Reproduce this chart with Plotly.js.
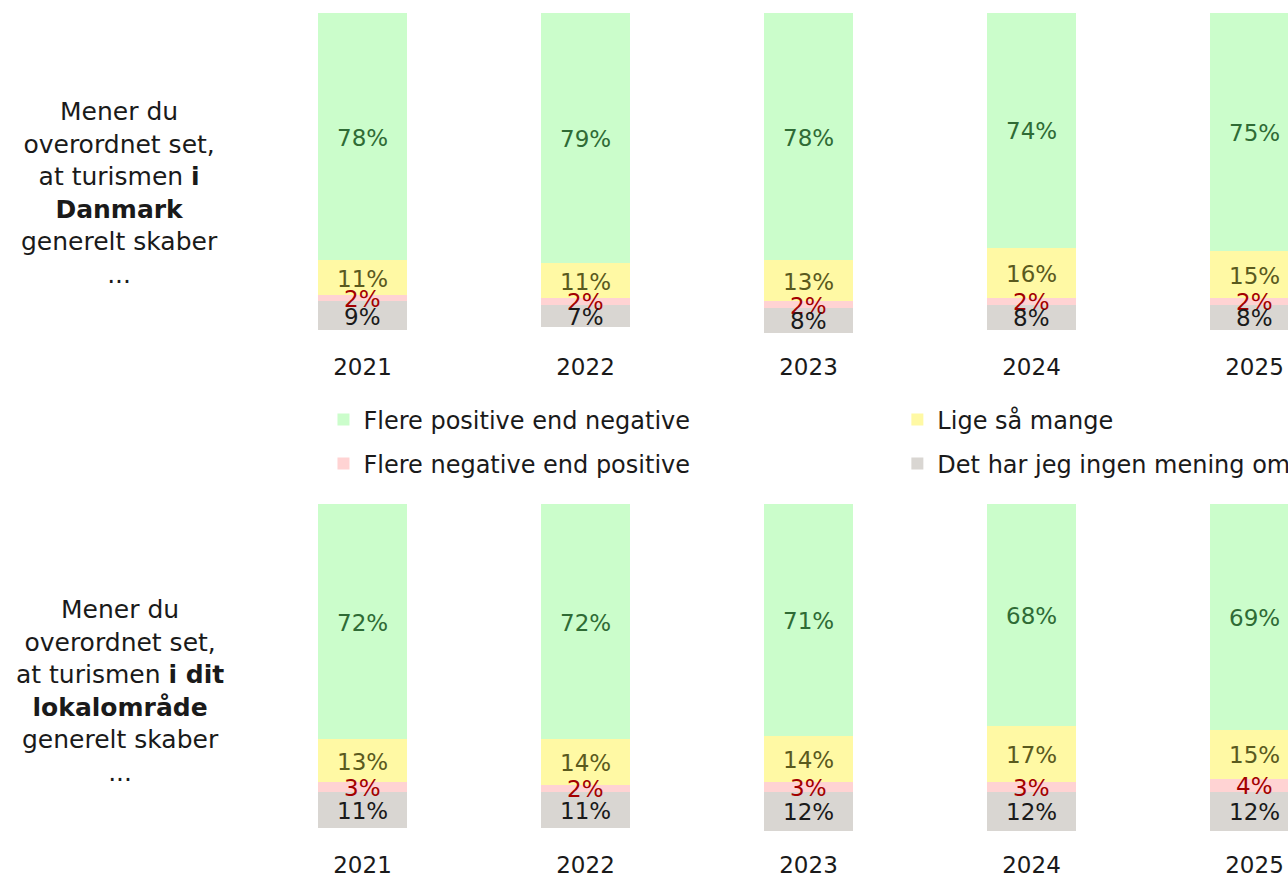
<!DOCTYPE html>
<html>
<head>
<meta charset="utf-8">
<script src="https://cdn.plot.ly/plotly-3.0.1.min.js"></script>
<style>
  html, body { margin: 0; padding: 0; background: #ffffff; overflow: hidden; }
  #chart { width: 1400px; height: 877px; }
</style>
</head>
<body>
<div id="chart"></div>
<script>
// Holdning til turisme, 2021-2025

const years = ['2021', '2022', '2023', '2024', '2025'];

// Panel 1: turismen i Danmark
const danmarkPositive   = [78, 79, 78, 74, 75];
const danmarkSame       = [11, 11, 13, 16, 15];
const danmarkNegative   = [2, 2, 2, 2, 2];
const danmarkNoOpinion  = [9, 7, 8, 8, 8];

// Panel 2: turismen i dit lokalområde
const localPositive  = [72, 72, 71, 68, 69];
const localSame      = [13, 14, 14, 17, 15];
const localNegative  = [3, 2, 3, 3, 4];
const localNoOpinion = [11, 11, 12, 12, 12];

const seriesNames = [
    'Flere positive end negative',
    'Lige så mange',
    'Flere negative end positive',
    'Det har jeg ingen mening om'
];

const barColors  = ['#cbfdcb', '#fff9a4', '#ffd3d3', '#d9d6d2'];
const textColors = ['#2f6b35', '#5a5a1e', '#a30000', '#1a1a1a'];
// one legend per entry, so the 2x2 grid can be placed exactly
const legendIds  = ['legend', 'legend2', 'legend3', 'legend4'];

const FONT = 'DejaVu Sans, sans-serif';

const traces = [];
const annotations = [];

function addPanel(seriesList, xa, ya, withLegend) {
    // stacked bars (y-axis reversed so the stack grows downward)
    seriesList.forEach((vals, i) => {
        traces.push({
            type: 'bar',
            x: years,
            y: vals,
            name: seriesNames[i],
            xaxis: xa,
            yaxis: ya,
            legend: legendIds[i],
            showlegend: withLegend,
            marker: { color: barColors[i], line: { width: 0 } },
            hoverinfo: 'skip'
        });
    });

    // labels in the middle of each segment (category axis -> index position)
    const cum = years.map(() => 0);
    seriesList.forEach((vals, i) => {
        vals.forEach((v, j) => {
            annotations.push({
                xref: xa, yref: ya,
                x: j,
                y: cum[j] + v / 2,
                yshift: -1,
                text: v + '%',
                showarrow: false,
                xanchor: 'center', yanchor: 'middle',
                font: { family: FONT, size: 23, color: textColors[i] }
            });
            cum[j] += v;
        });
    });
}

addPanel([danmarkPositive, danmarkSame, danmarkNegative, danmarkNoOpinion], 'x', 'y', true);
addPanel([localPositive, localSame, localNegative, localNoOpinion], 'x2', 'y2', false);

const questionFont = { family: FONT, size: 25, color: '#1a1a1a' };

annotations.push({
    xref: 'paper', yref: 'paper', x: -0.1175, y: 0.78,
    xanchor: 'center', yanchor: 'middle', align: 'center',
    showarrow: false, font: questionFont,
    text: 'Mener du<br>overordnet set,<br>at turismen <b>i</b><br><b>Danmark</b><br>generelt skaber<br>...'
});
annotations.push({
    xref: 'paper', yref: 'paper', x: -0.1175, y: 0.2121,
    xanchor: 'center', yanchor: 'middle', align: 'center',
    showarrow: false, font: questionFont,
    text: 'Mener du<br>overordnet set,<br>at turismen <b>i dit</b><br><b>lokalområde</b><br>generelt skaber<br>...'
});

const xAxisBase = {
    type: 'category',
    range: [-0.5, 4.5],
    showgrid: false,
    zeroline: false,
    showline: false,
    ticks: '',
    ticklabelstandoff: 18,
    tickfont: { family: FONT, size: 23, color: '#1a1a1a' },
    fixedrange: true
};

const legendBase = {
    orientation: 'h',
    xanchor: 'left',
    yanchor: 'middle',
    font: { family: FONT, size: 24, color: '#1a1a1a' },
    bgcolor: 'rgba(0,0,0,0)'
};

const layout = {
    width: 1400,
    height: 877,
    margin: { t: 0, r: 34, b: 0, l: 251 },
    paper_bgcolor: '#ffffff',
    plot_bgcolor: '#ffffff',
    barmode: 'stack',
    bargap: 0.6,
    font: { family: FONT },
    xaxis: Object.assign({}, xAxisBase, { anchor: 'y' }),
    xaxis2: Object.assign({}, xAxisBase, { anchor: 'y2' }),
    yaxis: { domain: [0.6201, 0.9852], range: [101, 0], visible: false, fixedrange: true },
    yaxis2: { domain: [0.0525, 0.4253], range: [100, 0], visible: false, fixedrange: true },
    legend:  Object.assign({}, legendBase, { x: 0.0650, y: 0.5211 }),
    legend2: Object.assign({}, legendBase, { x: 0.5797, y: 0.5211 }),
    legend3: Object.assign({}, legendBase, { x: 0.0650, y: 0.4709 }),
    legend4: Object.assign({}, legendBase, { x: 0.5797, y: 0.4709 }),
    annotations: annotations
};

Plotly.newPlot('chart', traces, layout, { displayModeBar: false, staticPlot: true });
</script>
</body>
</html>
